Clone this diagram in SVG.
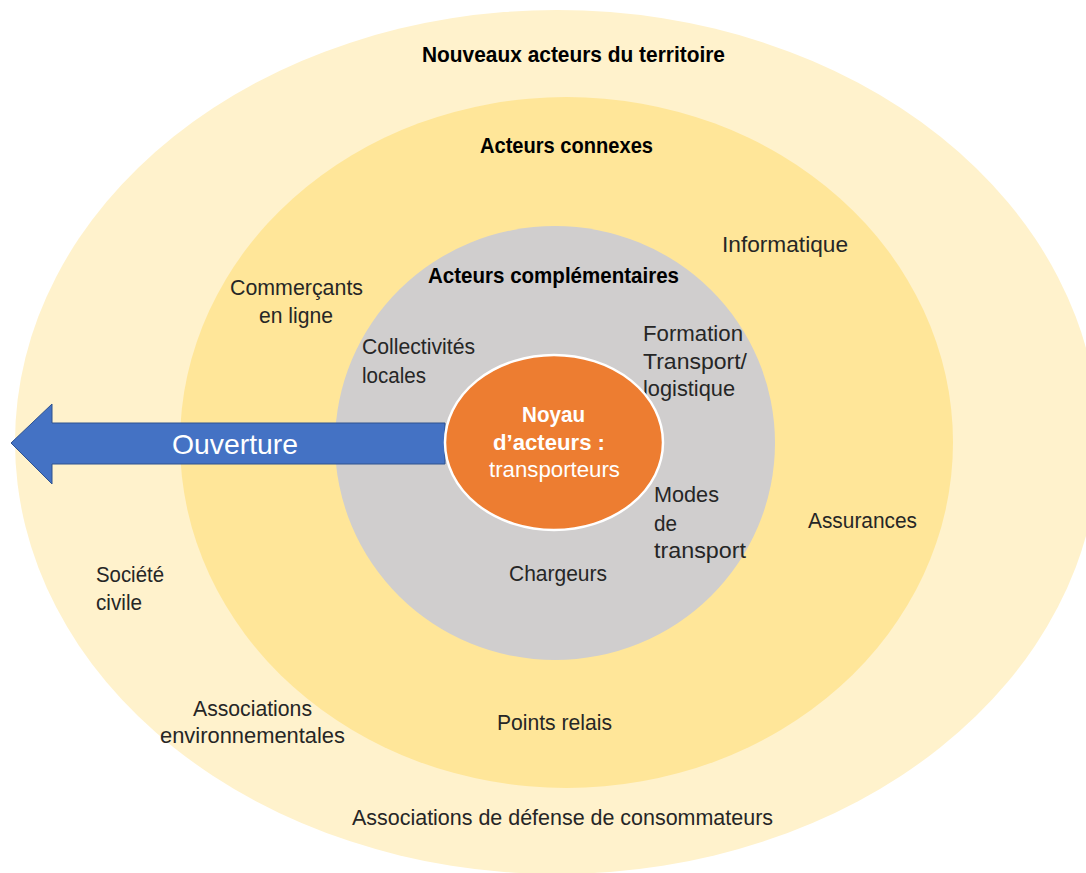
<svg xmlns="http://www.w3.org/2000/svg" width="1086" height="873" viewBox="0 0 1086 873">
<style>
text{font-family:"Liberation Sans",Arial,sans-serif;font-size:22px;fill:#262626}
.t{font-weight:bold;fill:#000}
.w{fill:#fff}
.wb{fill:#fff;font-weight:bold}
.big{font-size:28px;fill:#fff}
</style>
<rect width="1086" height="873" fill="#fff"/>
<g id="nouveaux">
<ellipse cx="557" cy="442" rx="542" ry="432" fill="#FFF2CC"/>
<text class="t" x="422" y="62" textLength="303" lengthAdjust="spacingAndGlyphs">Nouveaux acteurs du territoire</text>
<text x="96" y="582" textLength="68" lengthAdjust="spacingAndGlyphs">Société</text>
<text x="96" y="610" textLength="46" lengthAdjust="spacingAndGlyphs">civile</text>
<text x="193" y="716" textLength="119" lengthAdjust="spacingAndGlyphs">Associations</text>
<text x="160" y="743" textLength="185" lengthAdjust="spacingAndGlyphs">environnementales</text>
<text x="352" y="825" textLength="421" lengthAdjust="spacingAndGlyphs">Associations de défense de consommateurs</text>
</g>
<g id="connexes">
<ellipse cx="566.5" cy="442.5" rx="386.5" ry="345.5" fill="#FFE699"/>
<text class="t" x="480" y="153" textLength="173" lengthAdjust="spacingAndGlyphs">Acteurs connexes</text>
<text x="722" y="252" textLength="126" lengthAdjust="spacingAndGlyphs">Informatique</text>
<text x="230" y="295" textLength="133" lengthAdjust="spacingAndGlyphs">Commerçants</text>
<text x="259" y="323" textLength="74" lengthAdjust="spacingAndGlyphs">en ligne</text>
<text x="808" y="528" textLength="109" lengthAdjust="spacingAndGlyphs">Assurances</text>
<text x="497" y="730" textLength="115" lengthAdjust="spacingAndGlyphs">Points relais</text>
</g>
<g id="complementaires">
<ellipse cx="555" cy="443" rx="220" ry="217" fill="#D0CECE"/>
<text class="t" x="428" y="283" textLength="251" lengthAdjust="spacingAndGlyphs">Acteurs complémentaires</text>
<text x="362" y="354" textLength="113" lengthAdjust="spacingAndGlyphs">Collectivités</text>
<text x="362" y="383" textLength="64" lengthAdjust="spacingAndGlyphs">locales</text>
<text x="643" y="341" textLength="100" lengthAdjust="spacingAndGlyphs">Formation</text>
<text x="643" y="369" textLength="104" lengthAdjust="spacingAndGlyphs">Transport/</text>
<text x="643" y="396" textLength="92" lengthAdjust="spacingAndGlyphs">logistique</text>
<text x="654" y="502" textLength="65" lengthAdjust="spacingAndGlyphs">Modes</text>
<text x="654" y="531" textLength="23" lengthAdjust="spacingAndGlyphs">de</text>
<text x="654" y="558" textLength="92" lengthAdjust="spacingAndGlyphs">transport</text>
<text x="509" y="581" textLength="98" lengthAdjust="spacingAndGlyphs">Chargeurs</text>
</g>
<g id="connectors">
<path d="M11,443 L52,404 L52,423 L445,423 L445,464 L52,464 L52,484 Z" fill="#4472C4" stroke="#2F528F" stroke-width="1"/>
<text class="big" x="172" y="454" textLength="126" lengthAdjust="spacingAndGlyphs">Ouverture</text>
</g>
<g id="noyau">
<ellipse cx="554" cy="442.5" rx="109" ry="87.5" fill="#ED7D31" stroke="#fff" stroke-width="2.5"/>
<text class="wb" x="522" y="422" textLength="63" lengthAdjust="spacingAndGlyphs">Noyau</text>
<text class="wb" x="493" y="450" textLength="112" lengthAdjust="spacingAndGlyphs">d’acteurs :</text>
<text class="w" x="489" y="477" textLength="131" lengthAdjust="spacingAndGlyphs">transporteurs</text>
</g>
</svg>
